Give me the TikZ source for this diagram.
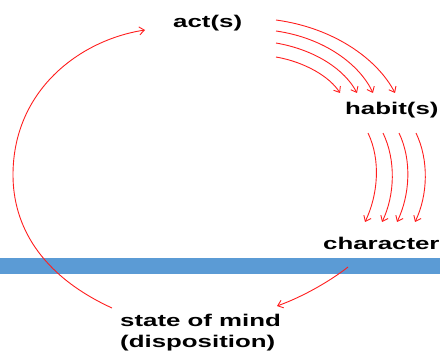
\documentclass[tikz,border=0pt]{standalone}
\usepackage{fontspec}
\setmainfont{Liberation Sans}[FakeStretch=1.52]
\usetikzlibrary{arrows.meta}
\definecolor{bandblue}{RGB}{91,155,213}
\definecolor{arrowred}{RGB}{255,30,30}
\begin{document}
\begin{tikzpicture}[x=1pt,y=-1pt,
  lbl/.style={inner sep=0pt,font=\fontsize{17}{21}\selectfont\bfseries,text=black},
  flow/.style={draw=arrowred,line width=0.9pt,-{Straight Barb[length=5pt,width=8pt]}}]
\useasboundingbox (0,0) rectangle (440,353);
% band
\fill[bandblue] (0,258) rectangle (440,274);
% labels
\node[lbl,anchor=base west] (act) at (173,28) {act(s)};
\node[lbl,anchor=base west] (habit) at (345,115) {habit(s)};
\node[lbl,anchor=base west] (char) at (323,250) {character};
\node[lbl,anchor=base west,align=left] (mind) at (120,347) {state of mind\\(disposition)};
% endpoints
\coordinate (mindOut) at (112,308);
\coordinate (actIn) at (145,30);
\coordinate (charOut) at (348,267);
\coordinate (mindIn) at (277,306);
\coordinate (a1) at (276,20); \coordinate (h1) at (395,93);
\coordinate (a2) at (276,31); \coordinate (h2) at (373,93);
\coordinate (a3) at (276,43); \coordinate (h3) at (357,93);
\coordinate (a4) at (276,57); \coordinate (h4) at (340,93);
\coordinate (b1) at (368,133); \coordinate (c1) at (365,222);
\coordinate (b2) at (383,133); \coordinate (c2) at (382,222);
\coordinate (b3) at (399,133); \coordinate (c3) at (397,222);
\coordinate (b4) at (416,133); \coordinate (c4) at (415,222);
% big return arc
\draw[flow] (mindOut) .. controls (40,275) and (13,225) .. (13,175)
  .. controls (13,90) and (80,40) .. (actIn);
% character to state of mind
\draw[flow] (charOut) .. controls (333,279) and (305,296) .. (mindIn);
% act(s) to habit(s)
\draw[flow] (a1) .. controls (335,28) and (378,60) .. (h1);
\draw[flow] (a2) .. controls (325,38) and (360,65) .. (h2);
\draw[flow] (a3) .. controls (316,50) and (345,70) .. (h3);
\draw[flow] (a4) .. controls (305,62) and (330,77) .. (h4);
% habit(s) to character
\draw[flow] (b1) .. controls (381,160) and (378,195) .. (c1);
\draw[flow] (b2) .. controls (396,160) and (395,195) .. (c2);
\draw[flow] (b3) .. controls (412,160) and (410,195) .. (c3);
\draw[flow] (b4) .. controls (429,160) and (428,195) .. (c4);
\end{tikzpicture}
\end{document}
